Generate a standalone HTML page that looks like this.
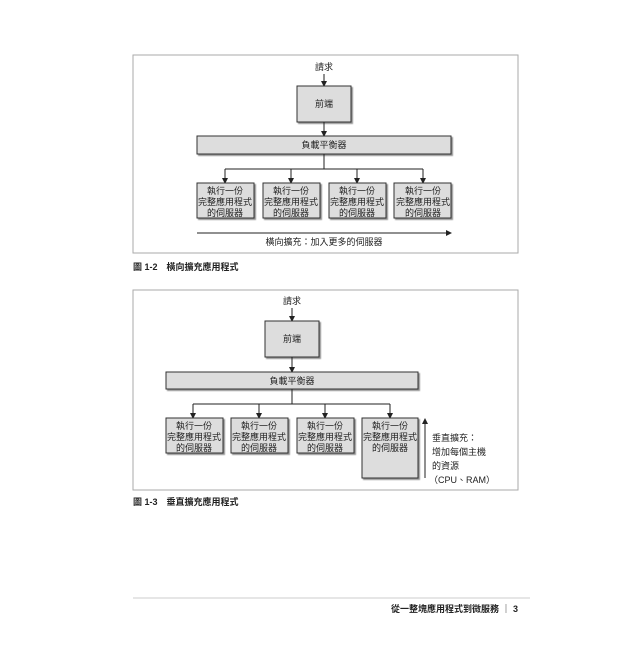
<!DOCTYPE html>
<html><head><meta charset="utf-8"><style>
html,body{margin:0;padding:0;background:#fff}
svg text{font-family:"Liberation Sans","Noto Sans CJK TC",sans-serif;fill:#222}
</style></head><body>
<svg width="640" height="640" viewBox="0 0 640 640" xmlns="http://www.w3.org/2000/svg">
<defs>
<marker id="a" markerWidth="6" markerHeight="6" refX="5" refY="3" orient="auto" markerUnits="userSpaceOnUse"><path d="M0,0 L6,3 L0,6 z" fill="#222"/></marker>
<filter id="s" x="-10%" y="-10%" width="130%" height="130%"><feDropShadow dx="1.5" dy="1.5" stdDeviation="0.6" flood-color="#777" flood-opacity="0.8"/></filter>
</defs>
<g stroke="#aaa" fill="none"><rect x="133" y="55" width="385" height="198"/><rect x="133" y="290" width="385" height="200"/></g>
<!-- fig 1-2 -->
<g font-size="9" text-anchor="middle">
<text x="324" y="70">請求</text>
<line x1="324" y1="74" x2="324" y2="86" stroke="#222" marker-end="url(#a)"/>
<rect x="297" y="86" width="54" height="36" fill="#ddd" stroke="#333" filter="url(#s)"/>
<text x="324" y="107">前端</text>
<line x1="324" y1="122" x2="324" y2="136" stroke="#222" marker-end="url(#a)"/>
<rect x="197" y="136" width="254" height="18" fill="#ddd" stroke="#333" filter="url(#s)"/>
<text x="324" y="148">負載平衡器</text>
<path d="M324 154V169M225 169H423" stroke="#222" fill="none"/>
<g stroke="#222"><line x1="225" y1="169" x2="225" y2="183" marker-end="url(#a)"/><line x1="291" y1="169" x2="291" y2="183" marker-end="url(#a)"/><line x1="357" y1="169" x2="357" y2="183" marker-end="url(#a)"/><line x1="423" y1="169" x2="423" y2="183" marker-end="url(#a)"/></g>
<g fill="#ddd" stroke="#333" filter="url(#s)"><rect x="197" y="183" width="57" height="35"/><rect x="263" y="183" width="57" height="35"/><rect x="329" y="183" width="57" height="35"/><rect x="394" y="183" width="57" height="35"/></g>
<g><text x="225" y="194">執行一份</text><text x="225" y="205">完整應用程式</text><text x="225" y="216">的伺服器</text>
<text x="291" y="194">執行一份</text><text x="291" y="205">完整應用程式</text><text x="291" y="216">的伺服器</text>
<text x="357" y="194">執行一份</text><text x="357" y="205">完整應用程式</text><text x="357" y="216">的伺服器</text>
<text x="423" y="194">執行一份</text><text x="423" y="205">完整應用程式</text><text x="423" y="216">的伺服器</text></g>
<line x1="197" y1="233" x2="451" y2="233" stroke="#222" marker-end="url(#a)"/>
<text x="324" y="245">橫向擴充：加入更多的伺服器</text>
</g>
<text x="133" y="270" font-size="9" font-weight="bold">圖 1-2　橫向擴充應用程式</text>
<!-- fig 1-3 -->
<g font-size="9" text-anchor="middle">
<text x="292" y="304">請求</text>
<line x1="292" y1="308" x2="292" y2="321" stroke="#222" marker-end="url(#a)"/>
<rect x="265" y="321" width="54" height="36" fill="#ddd" stroke="#333" filter="url(#s)"/>
<text x="292" y="342">前端</text>
<line x1="292" y1="357" x2="292" y2="372" stroke="#222" marker-end="url(#a)"/>
<rect x="166" y="372" width="252" height="17" fill="#ddd" stroke="#333" filter="url(#s)"/>
<text x="292" y="384">負載平衡器</text>
<path d="M292 389V404M193 404H390" stroke="#222" fill="none"/>
<g stroke="#222"><line x1="193" y1="404" x2="193" y2="418" marker-end="url(#a)"/><line x1="259" y1="404" x2="259" y2="418" marker-end="url(#a)"/><line x1="325" y1="404" x2="325" y2="418" marker-end="url(#a)"/><line x1="390" y1="404" x2="390" y2="418" marker-end="url(#a)"/></g>
<g fill="#ddd" stroke="#333" filter="url(#s)"><rect x="166" y="418" width="57" height="35"/><rect x="231" y="418" width="57" height="35"/><rect x="297" y="418" width="57" height="35"/><rect x="362" y="418" width="56" height="60"/></g>
<g><text x="194" y="429">執行一份</text><text x="194" y="440">完整應用程式</text><text x="194" y="451">的伺服器</text>
<text x="259" y="429">執行一份</text><text x="259" y="440">完整應用程式</text><text x="259" y="451">的伺服器</text>
<text x="325" y="429">執行一份</text><text x="325" y="440">完整應用程式</text><text x="325" y="451">的伺服器</text>
<text x="390" y="429">執行一份</text><text x="390" y="440">完整應用程式</text><text x="390" y="451">的伺服器</text></g>
<line x1="425" y1="478" x2="425" y2="419" stroke="#222" marker-end="url(#a)"/>
</g>
<g font-size="9"><text x="432" y="441">垂直擴充：</text><text x="432" y="455">增加每個主機</text><text x="432" y="469">的資源</text><text x="429" y="483">（CPU、RAM）</text></g>
<text x="133" y="505" font-size="9" font-weight="bold">圖 1-3　垂直擴充應用程式</text>
<line x1="133" y1="598" x2="530" y2="598" stroke="#ccc"/>
<text x="518" y="612" font-size="9" font-weight="bold" text-anchor="end">從一整塊應用程式到微服務 ｜ 3</text>
</svg>
</body></html>
